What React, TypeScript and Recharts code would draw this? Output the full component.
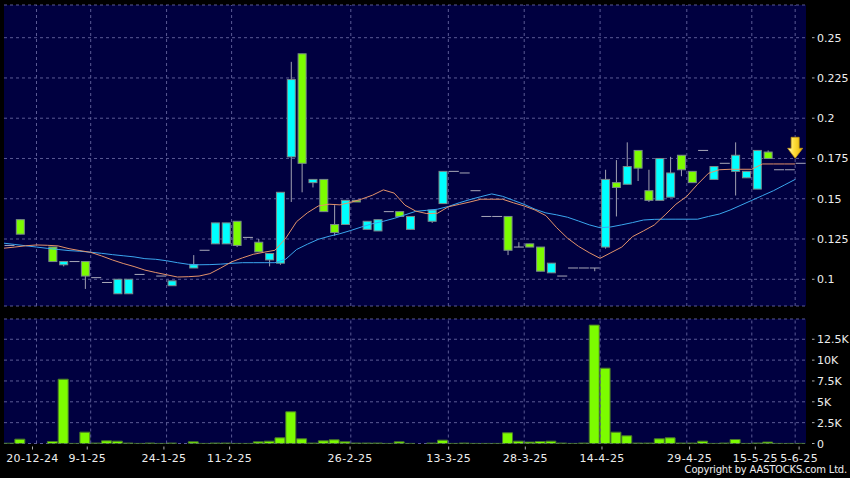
import React from 'react';
import {
  ComposedChart,
  BarChart,
  Bar,
  Line,
  XAxis,
  YAxis,
  CartesianGrid,
  ReferenceLine,
  ReferenceDot,
} from 'recharts';

// one slot per session shown on the chart (null = no mark)
const opens = [
  0.121, 0.137, null, null, 0.12, 0.109, 0.111, 0.111, 0.101, 0.098,
  0.091, 0.091, 0.103, null, 0.102, 0.096, null, 0.107, 0.118, 0.122,
  0.122, 0.136, 0.126, 0.123, 0.112, 0.11, 0.176, 0.24, 0.16, 0.162,
  0.134, 0.134, 0.149, 0.131, 0.13, 0.142, 0.142, 0.131, null, 0.136,
  0.147, 0.167, 0.166, 0.155, 0.139, 0.139, 0.139, 0.12, 0.122, 0.12,
  0.104, 0.102, 0.107, 0.107, 0.107, 0.12, 0.16, 0.159, 0.18, 0.155,
  0.149, 0.151, 0.177, 0.167, 0.18, 0.162, 0.172, 0.167, 0.163, 0.156,
  0.179, 0.168, 0.168, 0.172,
];
const highs = [
  0.121, 0.137, null, null, 0.12, 0.111, 0.111, 0.111, 0.101, 0.098,
  0.1, 0.1, 0.103, null, 0.102, 0.099, null, 0.115, 0.118, 0.135,
  0.135, 0.136, 0.126, 0.125, 0.116, 0.154, 0.235, 0.24, 0.162, 0.162,
  0.146, 0.149, 0.149, 0.136, 0.137, 0.142, 0.142, 0.139, null, 0.143,
  0.167, 0.167, 0.166, 0.155, 0.139, 0.139, 0.139, 0.123, 0.122, 0.12,
  0.11, 0.102, 0.107, 0.107, 0.107, 0.168, 0.174, 0.185, 0.18, 0.168,
  0.175, 0.176, 0.177, 0.167, 0.18, 0.17, 0.172, 0.185, 0.167, 0.18,
  0.18, 0.168, 0.168, 0.172,
];
const lows = [
  0.121, 0.128, null, null, 0.111, 0.108, 0.111, 0.094, 0.101, 0.098,
  0.091, 0.091, 0.103, null, 0.102, 0.096, null, 0.107, 0.118, 0.122,
  0.122, 0.12, 0.126, 0.117, 0.108, 0.109, 0.148, 0.154, 0.157, 0.142,
  0.127, 0.134, 0.148, 0.131, 0.13, 0.142, 0.139, 0.131, null, 0.135,
  0.147, 0.167, 0.166, 0.155, 0.139, 0.139, 0.115, 0.12, 0.12, 0.105,
  0.104, 0.102, 0.107, 0.107, 0.105, 0.119, 0.139, 0.159, 0.161, 0.148,
  0.149, 0.151, 0.164, 0.16, 0.18, 0.162, 0.172, 0.152, 0.163, 0.156,
  0.175, 0.168, 0.168, 0.172,
];
const closes = [
  0.121, 0.128, null, null, 0.111, 0.111, 0.111, 0.102, 0.101, 0.098,
  0.1, 0.1, 0.103, null, 0.102, 0.099, null, 0.109, 0.118, 0.135,
  0.135, 0.121, 0.126, 0.117, 0.116, 0.154, 0.224, 0.172, 0.162, 0.142,
  0.129, 0.149, 0.148, 0.136, 0.137, 0.142, 0.139, 0.139, null, 0.143,
  0.167, 0.167, 0.166, 0.155, 0.139, 0.139, 0.118, 0.12, 0.12, 0.105,
  0.11, 0.102, 0.107, 0.107, 0.107, 0.162, 0.157, 0.17, 0.169, 0.149,
  0.175, 0.166, 0.168, 0.16, 0.18, 0.17, 0.172, 0.177, 0.167, 0.18,
  0.175, 0.168, 0.168, 0.172,
];
const volumes = [
  30, 520, 0, 0, 240, 7710, 10, 1360, 50, 320,
  280, 50, 10, 50, 10, 50, 0, 200, 10, 50,
  50, 10, 10, 200, 280, 680, 3800, 560, 50, 320,
  440, 200, 50, 50, 50, 10, 200, 10, 0, 50,
  400, 10, 50, 10, 10, 10, 1280, 280, 170, 240,
  280, 50, 10, 50, 14200, 9030, 1360, 920, 50, 50,
  560, 680, 50, 50, 280, 10, 50, 480, 10, 50,
  170, 10, 10, 10,
];
// moving averages, read at the left edge of each slot
const maShort = [
  0.1193, 0.12, 0.1208, 0.1213, 0.1211, 0.1207, 0.119, 0.1178, 0.1167, 0.1145,
  0.112, 0.1098, 0.1079, 0.1057, 0.1042, 0.1028, 0.1014, 0.1016, 0.102, 0.1035,
  0.107, 0.1108, 0.1133, 0.1155, 0.1168, 0.118, 0.1255, 0.1358, 0.1413, 0.1455,
  0.1466, 0.1462, 0.1478, 0.1498, 0.1522, 0.1555, 0.1535, 0.146, 0.1423, 0.1408,
  0.141, 0.145, 0.1465, 0.148, 0.1497, 0.1497, 0.1497, 0.1475, 0.1455, 0.143,
  0.1395, 0.132, 0.1255, 0.1205, 0.1165, 0.113, 0.1165, 0.12, 0.1265, 0.13,
  0.1337, 0.14, 0.1466, 0.1515, 0.159, 0.1658, 0.168, 0.1683, 0.1683, 0.1683,
  0.1716, 0.1716, 0.1716, 0.1716,
];
const maLong = [
  0.1224, 0.1216, 0.1208, 0.12, 0.1192, 0.1185, 0.1178, 0.1174, 0.1168, 0.1161,
  0.1153, 0.1146, 0.1139, 0.1128, 0.1124, 0.1115, 0.1103, 0.1093, 0.109, 0.1091,
  0.1094, 0.1099, 0.1103, 0.1103, 0.1103, 0.1103, 0.1125, 0.1185, 0.1218, 0.1248,
  0.1267, 0.1283, 0.1303, 0.1325, 0.1345, 0.136, 0.1378, 0.14, 0.1422, 0.1428,
  0.1435, 0.1452, 0.1475, 0.1495, 0.1513, 0.153, 0.1515, 0.149, 0.1465, 0.1435,
  0.1412, 0.14, 0.1385, 0.1362, 0.1338, 0.132, 0.1325, 0.1338, 0.1352, 0.1368,
  0.1372, 0.1373, 0.1373, 0.1373, 0.1373, 0.139, 0.1405, 0.143, 0.146, 0.149,
  0.152, 0.155, 0.1585, 0.162,
];

const priceTicks = [0.1, 0.125, 0.15, 0.175, 0.2, 0.225, 0.25];
const volumeTicks = [0, 2500, 5000, 7500, 10000, 12500];
const dateSlots = [3, 8, 15, 21, 32, 41, 48, 55, 63, 69, 73];
const dateLabels = ['20-12-24', '9-1-25', '24-1-25', '11-2-25', '26-2-25', '13-3-25', '28-3-25', '14-4-25', '29-4-25', '15-5-25', '5-6-25'];

const data = opens.map((o, i) => ({
  i,
  o,
  h: highs[i],
  l: lows[i],
  c: closes[i],
  v: volumes[i],
  ma1: maShort[i],
  ma2: maLong[i],
}));

const BG = '#000040';
const GRID = '#5a5a94';
const FONT = 'DejaVu Sans';
const UP = '#00ffff';
const DOWN = '#7cfc00';

const Candle = (props: any) => {
  const { x, y, width, height, payload } = props;
  if (payload == null || payload.o == null) return null;
  const { o, h, l, c } = payload;
  const cx = x + width / 2;
  const top = Math.min(y, y + height);
  const bottom = Math.max(y, y + height);
  if (h === l) {
    return <line x1={cx - 5} x2={cx + 5} y1={top} y2={top} stroke="#a8a8b8" strokeWidth={1} />;
  }
  const k = (bottom - top) / (h - l);
  const yo = top + (h - o) * k;
  const yc = top + (h - c) * k;
  return (
    <g>
      <line x1={cx} x2={cx} y1={top} y2={bottom} stroke="#a0a0b0" strokeWidth={1} />
      {o === c ? (
        <line x1={cx - 5} x2={cx + 5} y1={yo} y2={yo} stroke="#a8a8b8" strokeWidth={1} />
      ) : (
        <rect
          x={x + 0.5}
          y={Math.min(yo, yc)}
          width={width - 1}
          height={Math.max(Math.abs(yc - yo), 1)}
          fill={c > o ? UP : DOWN}
          stroke="#7a8a8a"
          strokeWidth={1}
        />
      )}
    </g>
  );
};

const AxisTick = (props: any) => {
  const { x, y, payload, fmt } = props;
  return (
    <g>
      <line x1={x + 6} x2={x + 8.5} y1={y} y2={y} stroke="#b0b0b0" />
      <text x={x + 11} y={y} dy={4} fill="#eeeeee" fontSize={11} fontFamily={FONT}>
        {fmt(payload.value)}
      </text>
    </g>
  );
};

// the date row sits on the slot edges, spread a touch wider than the slots
const DateTick = (props: any) => {
  const { x, y, payload } = props;
  const idx = dateSlots.indexOf(payload.value);
  if (idx < 0) return null;
  const edge = x - (payload.offset ?? 5.4);
  const tx = edge + (edge - 420) * 0.0105;
  return (
    <g>
      <line x1={tx} x2={tx} y1={y + 3} y2={y + 6} stroke="#b0b0b0" />
      <text x={tx} y={y + 18.5} textAnchor="middle" fill="#eeeeee" fontSize={11} fontFamily={FONT} letterSpacing={0.3}>
        {dateLabels[idx]}
      </text>
    </g>
  );
};

const Arrow = (props: any) => {
  const { cx, cy } = props;
  const t = cy - 5;
  const d = `M${cx - 4},${t - 21} L${cx + 4},${t - 21} L${cx + 4},${t - 10} L${cx + 7.5},${t - 10} L${cx},${t} L${cx - 7.5},${t - 10} L${cx - 4},${t - 10} Z`;
  return <path d={d} fill="url(#arrowFill)" stroke="#c89a10" strokeWidth={0.8} />;
};

const fmtPrice = (v: number) => String(v);
const fmtVol = (v: number) => (v === 0 ? '0' : `${v / 1000}K`);

export default function App() {
  return (
    <div style={{ position: 'absolute', left: 0, top: 0, width: 850, height: 478, background: '#000', overflow: 'hidden' }}>
      <div style={{ position: 'absolute', left: 0, top: 0 }}>
        <ComposedChart width={850} height={310} data={data} margin={{ top: 5, right: 0, bottom: 4, left: 4 }}>
          <defs>
            <linearGradient id="arrowFill" x1="0" y1="0" x2="1" y2="0">
              <stop offset="0%" stopColor="#fffbd0" />
              <stop offset="40%" stopColor="#ffe040" />
              <stop offset="100%" stopColor="#e8b400" />
            </linearGradient>
          </defs>
          <CartesianGrid vertical={false} fill={BG} stroke={GRID} strokeDasharray="3 3" />
          <XAxis dataKey="i" type="category" hide />
          <XAxis xAxisId="ma" dataKey="i" type="number" domain={[0, 74]} hide allowDataOverflow />
          <YAxis
            orientation="right"
            width={44}
            domain={[0.0834, 0.2703]}
            ticks={priceTicks}
            interval={0}
            allowDataOverflow
            axisLine={false}
            tickLine={false}
            tickSize={0}
            tickMargin={0}
            tick={<AxisTick fmt={fmtPrice} />}
          />
          {dateSlots.map((s) => (
            <ReferenceLine key={s} x={s} position="start" stroke={GRID} strokeDasharray="3 3" />
          ))}
          <Line xAxisId="ma" dataKey="ma2" stroke="#3aa6ee" strokeWidth={1} dot={false} isAnimationActive={false} />
          <Line xAxisId="ma" dataKey="ma1" stroke="#e3926a" strokeWidth={1} dot={false} isAnimationActive={false} />
          <Bar
            dataKey={(d: any) => (d.o == null ? null : [d.l, d.h])}
            barSize={9}
            shape={<Candle />}
            isAnimationActive={false}
          />
          <ReferenceDot xAxisId="ma" x={73} y={closes[73] as number} shape={<Arrow />} />
        </ComposedChart>
      </div>
      <div style={{ position: 'absolute', left: 0, top: 314 }}>
        <BarChart width={850} height={164} data={data} margin={{ top: 5, right: 0, bottom: 0, left: 4 }} barCategoryGap={0}>
          <CartesianGrid vertical={false} fill={BG} stroke={GRID} strokeDasharray="3 3" />
          <XAxis
            dataKey="i"
            type="category"
            ticks={dateSlots}
            interval={0}
            height={34.5}
            axisLine={false}
            tickLine={false}
            tickSize={0}
            tickMargin={0}
            tick={<DateTick />}
          />
          <YAxis
            orientation="right"
            width={44}
            domain={[0, 14930]}
            ticks={volumeTicks}
            interval={0}
            allowDataOverflow
            axisLine={false}
            tickLine={false}
            tickSize={0}
            tickMargin={0}
            tick={<AxisTick fmt={fmtVol} />}
          />
          {dateSlots.map((s) => (
            <ReferenceLine key={s} x={s} position="start" stroke={GRID} strokeDasharray="3 3" />
          ))}
          <Bar dataKey="v" barSize={10} fill={DOWN} stroke="#4a7a2a" strokeWidth={1} isAnimationActive={false} />
        </BarChart>
      </div>
      <div
        style={{
          position: 'absolute',
          right: 3,
          top: 464,
          fontFamily: FONT,
          fontSize: 10,
          lineHeight: '12px',
          letterSpacing: -0.2,
          color: '#eeeeee',
          whiteSpace: 'nowrap',
        }}
      >
        Copyright by AASTOCKS.com Ltd.
      </div>
    </div>
  );
}
